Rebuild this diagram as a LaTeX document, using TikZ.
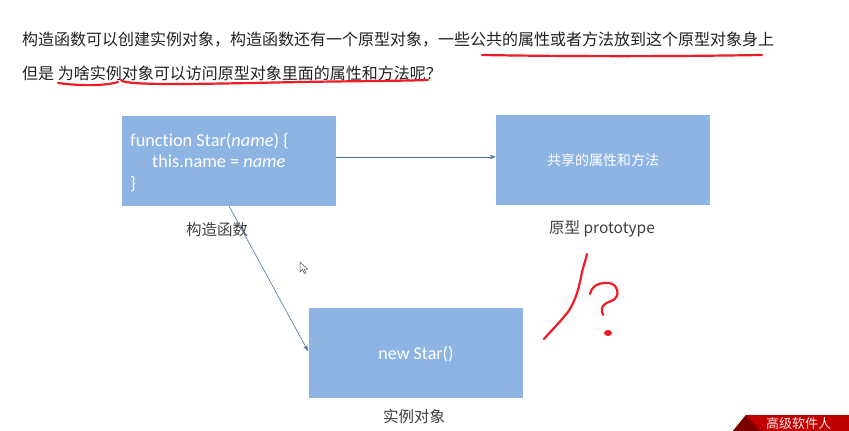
\documentclass[tikz,border=0pt]{standalone}
\usepackage{fontspec}
\setmainfont[Ligatures=NoCommon]{Carlito}
\newfontfamily\cjk{Noto Sans CJK SC}
\usetikzlibrary{arrows.meta}
\definecolor{boxblue}{HTML}{8EB4E3}
\definecolor{linkblue}{HTML}{4A72A8}
\definecolor{labelgray}{HTML}{404040}
\definecolor{inkred}{HTML}{EE1C25}
\definecolor{bannerred}{HTML}{C00000}
\definecolor{bannerdark}{HTML}{7A0000}
\tikzset{
  panel/.style={fill=boxblue, draw=none, minimum width=214pt, minimum height=90pt, inner sep=0pt},
  panellabel/.style={text=labelgray, font=\cjk\fontsize{15.5}{18}\selectfont, inner sep=0pt},
  headline/.style={anchor=west, inner sep=0pt, text=black!87, font=\cjk\fontsize{16}{19}\selectfont},
  link/.style={draw=linkblue, line width=0.6pt, -{Stealth[length=6pt,width=4.5pt]}},
  ink/.style={draw=inkred, line width=2.2pt, line cap=round, line join=round},
}
\begin{document}
\begin{tikzpicture}[x=1pt,y=-1pt]
\useasboundingbox (0,0) rectangle (849,431);
\fill[white] (0,0) rectangle (849,431);

% heading lines
\node[headline] (h1) at (22,40) {构造函数可以创建实例对象，构造函数还有一个原型对象，一些公共的属性或者方法放到这个原型对象身上};
\node[headline] (h2) at (22,73) {但是 为啥实例对象可以访问原型对象里面的属性和方法呢？};

% hand-drawn underlines
\draw[ink] (482,55) .. controls (600,57) and (700,56) .. (762,55);
\draw[ink] (58,83) .. controls (80,86) and (105,86) .. (118,82);
\draw[ink] (121,80) .. controls (124,86) and (200,84) .. (300,82) .. controls (360,81) and (400,81) .. (428,80);

% boxes
\node[panel] (ctor) at (229,161) {};
\node[anchor=north west, inner sep=0pt, text=white, align=left,
      font=\fontsize{18.3}{21.5}\selectfont] (code) at (130,132.5)
  {function Star(\textit{name}) \{\\
   \hspace*{22pt}this.name = \textit{name}\\
   \}};
\node[panel] (proto) at (603,160) {};
\node[text=white, font=\cjk\fontsize{14}{17}\selectfont, inner sep=0pt] (shared) at (603,160) {共享的属性和方法};
\node[panel] (inst) at (416,353) {};
\node[text=white, font=\fontsize{18}{21}\selectfont, inner sep=0pt] (newstar) at (416,354) {new Star()};

% captions
\node[panellabel] (ctorlabel) at (217,230) {构造函数};
\node[panellabel] (protolabel) at (602,229) {原型 prototype};
\node[panellabel] (instlabel) at (414,417) {实例对象};

% connectors
\draw[link] (ctor.east |- 0,157) -- (proto.west |- 0,157);
\coordinate (ctorfoot) at (229,206);
\coordinate (instside) at (308,351);
\draw[link] (ctorfoot) -- (instside);

% mouse pointer
\draw[black!70, line width=0.5pt, fill=white] (300,262) -- (300,272) -- (302.5,269.5) -- (304.5,273.5) -- (306,272.8) -- (304,269) -- (307.5,269) -- cycle;

% hand-drawn slash and question mark
\draw[ink] (544,339) .. controls (552,330) and (560,322) .. (568,312) .. controls (576,300) and (579,288) .. (582,272) .. controls (584,264) and (586,259) .. (587,254);
\draw[ink] (590,294) .. controls (592,286) and (598,283) .. (605,283) .. controls (614,282) and (619,288) .. (617,296) .. controls (615,302) and (606,301) .. (603,306) .. controls (601,310) and (602,313) .. (603,315);
\fill[inkred] (608,333) ellipse (4pt and 3pt);

% corner banner
\fill[bannerred] (746,415) -- (849,415) -- (849,431) -- (733,431) -- cycle;
\fill[bannerdark] (746,415) -- (760,431) -- (733,431) -- cycle;
\node[anchor=west, inner sep=0pt, text=white!92!red, font=\cjk\fontsize{13}{15}\selectfont] (brand) at (766,423.5) {高级软件人};
\end{tikzpicture}
\end{document}
